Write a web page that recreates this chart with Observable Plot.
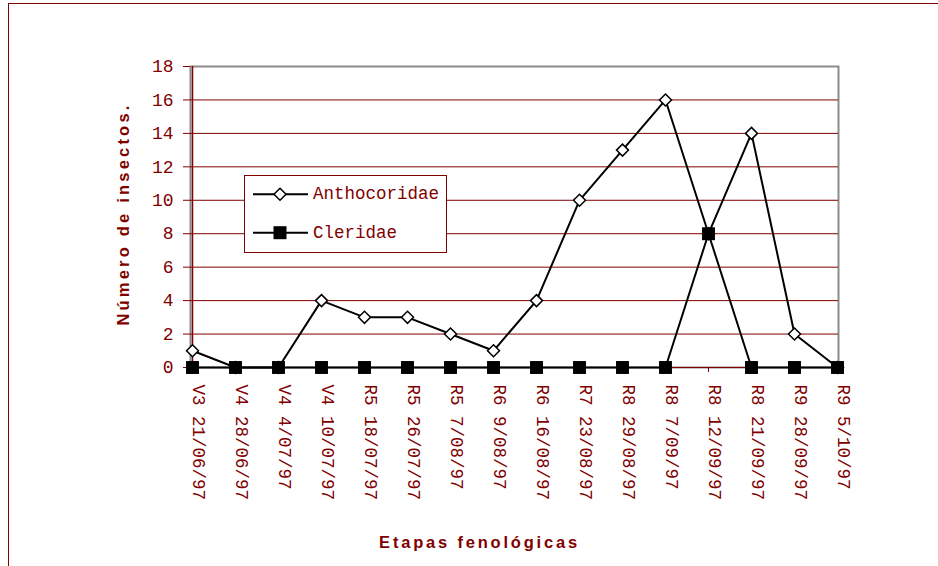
<!DOCTYPE html>
<html><head><meta charset="utf-8">
<script src="https://cdn.jsdelivr.net/npm/d3@7"></script>
<script src="https://cdn.jsdelivr.net/npm/@observablehq/plot@0.6"></script>
<style>
body{margin:0;background:#fff;}
#wrap{position:relative;width:938px;height:566px;overflow:hidden;background:#fff;}
#wrap svg.plot{position:absolute;left:0;top:0;}
#frame{position:absolute;left:8px;top:3px;width:1000px;height:1000px;border-left:1.5px solid #800000;border-top:1.5px solid #800000;}
#legend{position:absolute;left:244px;top:175px;width:201px;height:76px;border:1px solid #800000;background:#fff;}
#legend svg{position:absolute;left:0;top:0;}
</style></head><body>
<div id="wrap"><div id="frame"></div></div>
<script>
const stages = ["V3 21/06/97","V4 28/06/97","V4 4/07/97","V4 10/07/97","R5 18/07/97","R5 26/07/97","R5 7/08/97","R6 9/08/97","R6 16/08/97","R7 23/08/97","R8 29/08/97","R8 7/09/97","R8 12/09/97","R8 21/09/97","R9 28/09/97","R9 5/10/97"];
const anthocoridae = [1,0,0,4,3,3,2,1,4,10,13,16,8,14,2,0];
const cleridae = [0,0,0,0,0,0,0,0,0,0,0,0,8,0,0,0];
const yTicks = [0,2,4,6,8,10,12,14,16,18];
const seriesNames = ["Anthocoridae","Cleridae"];
const xTitle = "Etapas fenológicas";
const yTitle = "Número de insectos.";

const DR = "#800000";
const anthoData = stages.map((s,i)=>({stage:s, value:anthocoridae[i]}));
const clerData = stages.map((s,i)=>({stage:s, value:cleridae[i]}));

const plot = Plot.plot({
  width:938, height:566,
  marginLeft:190, marginRight:100, marginTop:66, marginBottom:199,
  style:{background:"transparent", overflow:"visible"},
  x:{type:"point", domain:stages, padding:0},
  y:{domain:[0,18]},
  marks:[
    Plot.frame({stroke:"#8c8c8c", strokeWidth:2}),
    Plot.gridY(yTicks.filter(t=>t>0 && t<18), {stroke:DR, strokeOpacity:1, strokeWidth:1}),
    Plot.ruleX([stages[0]], {stroke:DR, strokeWidth:1.5}),
    Plot.ruleY([0], {stroke:DR, strokeWidth:1}),
    Plot.axisY(yTicks, {tickSize:7, tickPadding:10, color:DR, fontFamily:"Liberation Mono", fontSize:18, label:null}),
    Plot.axisX({tickSize:5, tickFormat:()=>"", color:DR, label:null}),
    Plot.text(stages, {x:d=>d, text:d=>d, frameAnchor:"bottom", rotate:90, textAnchor:"start", lineAnchor:"bottom", dy:17, fill:DR, fontFamily:"Liberation Mono", fontSize:17.5}),
    Plot.line(anthoData, {x:"stage", y:"value", stroke:"black", strokeWidth:2}),
    Plot.dot(anthoData, {x:"stage", y:"value", symbol:"diamond2", r:5.4, fill:"white", stroke:"black", strokeWidth:1.5}),
    Plot.line(clerData, {x:"stage", y:"value", stroke:"black", strokeWidth:2}),
    Plot.dot(clerData, {x:"stage", y:"value", symbol:"square", r:7.3, fill:"black"}),
    Plot.text([xTitle], {text:d=>d, frameAnchor:"bottom", textAnchor:"middle", dx:-35, dy:180, lineAnchor:"bottom", fontWeight:"bold", fontSize:16.5, fill:DR, fontFamily:"Liberation Sans"}),
    Plot.text([yTitle], {text:d=>d, frameAnchor:"left", textAnchor:"middle", dx:-62, dy:-3, rotate:-90, lineAnchor:"bottom", fontWeight:"bold", fontSize:16.5, fill:DR, fontFamily:"Liberation Sans"})
  ]
});
d3.select(plot).selectAll("text").each(function(){
  const t = this.textContent;
  if (t === xTitle) this.setAttribute("letter-spacing","2.8px");
  if (t === yTitle) this.setAttribute("letter-spacing","3.2px");
});
const wrap = document.getElementById("wrap");
wrap.insertBefore(plot, wrap.firstChild);

const legend = document.createElement("div");
legend.id = "legend";
const rows = [{y:18.3, ty:23, sym:"diamond"},{y:56.7, ty:61.5, sym:"square"}];
let svg = `<svg width="201" height="76" xmlns="http://www.w3.org/2000/svg">`;
rows.forEach((r,i)=>{
  svg += `<line x1="8" x2="63" y1="${r.y}" y2="${r.y}" stroke="black" stroke-width="2"/>`;
  if (r.sym==="diamond") svg += `<path d="M35,${r.y-6}L41,${r.y}L35,${r.y+6}L29,${r.y}Z" fill="white" stroke="black" stroke-width="1.5"/>`;
  else svg += `<rect x="28.5" y="${r.y-6.5}" width="13" height="13" fill="black"/>`;
  svg += `<text x="68" y="${r.ty}" fill="${DR}" font-family="Liberation Mono" font-size="17.5">${seriesNames[i]}</text>`;
});
svg += `</svg>`;
legend.innerHTML = svg;
wrap.appendChild(legend);
</script>
</body></html>
